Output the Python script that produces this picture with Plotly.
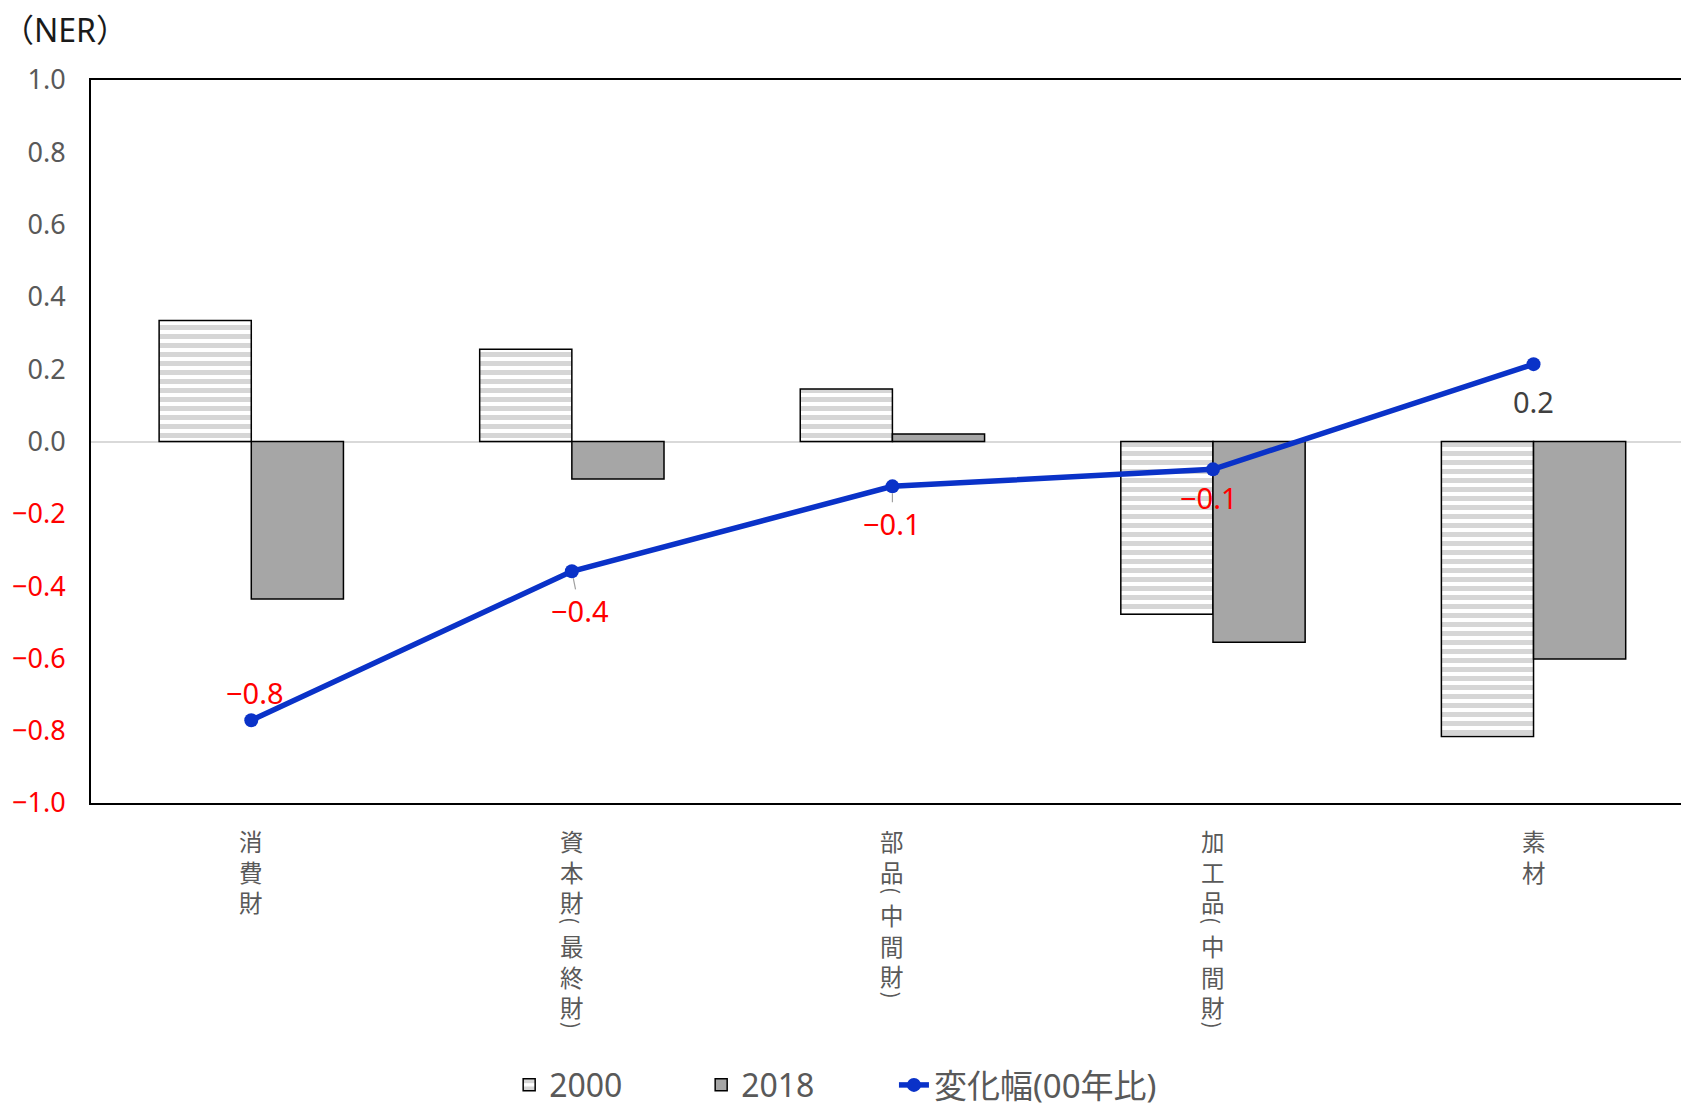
import re
import plotly.graph_objects as go

categories = ["消費財", "資本財(最終財)", "部品(中間財)", "加工品(中間財)", "素材"]
ner_2000 = [0.335, 0.255, 0.145, -0.478, -0.816]
ner_2018 = [-0.436, -0.104, 0.021, -0.555, -0.602]
change = [-0.771, -0.359, -0.124, -0.077, 0.214]
y_ticks = [1.0, 0.8, 0.6, 0.4, 0.2, 0.0, -0.2, -0.4, -0.6, -0.8, -1.0]

# label placement (pixel offsets from each line point)
label_dy = [-28, 39, 37, 28, 37]
label_dx = [4, 8, 0, -4, 0]
label_leader = [False, True, True, False, False]

NUMFONT = "Noto Sans, Noto Sans CJK JP"
CJK = "Noto Sans CJK JP"
GRAY = "#595959"
RED = "#FF0000"
BLUE = "#0A32C8"


def fmt(v):
    s = f"{abs(v):.1f}"
    return ("\u2212" + s) if v < 0 else s


tick_text = [
    (f"<span style='color:{RED}'>{fmt(v)}</span>" if v < 0 else fmt(v))
    for v in y_ticks
]

fig = go.Figure()
fig.add_trace(go.Bar(
    x=categories, y=ner_2000, name="2000", legend="legend",
    marker=dict(color="white",
                line=dict(color="black", width=1.5),
                pattern=dict(shape="-", fgcolor="#ADADAD", bgcolor="white",
                             size=9, solidity=0.55, fillmode="overlay")),
))
fig.add_trace(go.Bar(
    x=categories, y=ner_2018, name="2018", legend="legend",
    marker=dict(color="#A6A6A6", line=dict(color="black", width=1.5)),
))
fig.add_trace(go.Scatter(
    x=categories, y=change, name="変化幅(00年比)", mode="lines+markers",
    legend="legend2",
    line=dict(color=BLUE, width=5.5), marker=dict(color=BLUE, size=14),
))

# data labels for the change line
for c, v, dy, dx, lead in zip(categories, change, label_dy, label_dx, label_leader):
    f = dict(family=NUMFONT, size=29, color=RED if v < 0 else "#404040")
    if lead:
        fig.add_annotation(x=c, y=v, text=fmt(v), showarrow=True, ax=dx, ay=dy,
                           arrowhead=0, arrowwidth=1.2, arrowcolor="#A0A0A0",
                           standoff=7, font=f)
    else:
        fig.add_annotation(x=c, y=v, text=fmt(v), showarrow=False,
                           xshift=dx, yshift=-dy, font=f)

# vertical (stacked) category labels under the axis
CJK_SIZE = 23.5
FULL_ADV = CJK_SIZE * 1.3
PAREN_ADV, START = 13.0, 20.0
for c in categories:
    cursor = START
    for part in re.split(r"([()])", c):
        if not part:
            continue
        if part in "()":
            fig.add_annotation(
                x=c, xref="x", y=0, yref="paper", yanchor="middle",
                yshift=-(cursor + PAREN_ADV / 2), text=part, showarrow=False,
                textangle=90, borderpad=0,
                font=dict(family=CJK, size=20, color=GRAY),
            )
            cursor += PAREN_ADV
        else:
            fig.add_annotation(
                x=c, xref="x", y=0, yref="paper", yanchor="top",
                yshift=-cursor, text="<br>".join(part), showarrow=False,
                borderpad=0,
                font=dict(family=CJK, size=CJK_SIZE, color=GRAY),
            )
            cursor += FULL_ADV * len(part)

fig.add_annotation(
    xref="paper", yref="paper", x=-0.0572, y=1.0, yshift=51,
    xanchor="left", yanchor="middle", showarrow=False,
    text="（NER）", font=dict(family=NUMFONT, size=32, color="#1a1a1a"),
)

legend_common = dict(orientation="h", y=-0.390, yanchor="middle", xanchor="left",
                     traceorder="normal", bgcolor="rgba(0,0,0,0)")

fig.update_layout(
    width=1681, height=1108,
    margin=dict(l=91, r=0, t=80, b=305, autoexpand=False),
    paper_bgcolor="white", plot_bgcolor="white",
    barmode="group", bargap=0.425, bargroupgap=0,
    font=dict(family=NUMFONT, color=GRAY),
    hovermode=False,
    legend=dict(x=0.263, entrywidth=147,
                font=dict(family=NUMFONT, size=32, color=GRAY), **legend_common),
    legend2=dict(x=0.505,
                 font=dict(family=NUMFONT, size=33, color=GRAY), **legend_common),
)
fig.update_xaxes(
    type="category", range=[-0.5, 4.46],
    showticklabels=False,
    showline=True, linecolor="black", linewidth=2, mirror=True,
    showgrid=False, ticks="",
)
fig.update_yaxes(
    range=[-1, 1], tickvals=y_ticks, ticktext=tick_text,
    tickfont=dict(family=NUMFONT, size=27, color=GRAY),
    showline=True, linecolor="black", linewidth=2,
    showgrid=False, zeroline=True, zerolinecolor="#D9D9D9", zerolinewidth=2,
    ticks="", ticklabelstandoff=18,
)

fig.write_html("out.html", config={"displayModeBar": False},
               post_script="document.body.style.margin='0';")
